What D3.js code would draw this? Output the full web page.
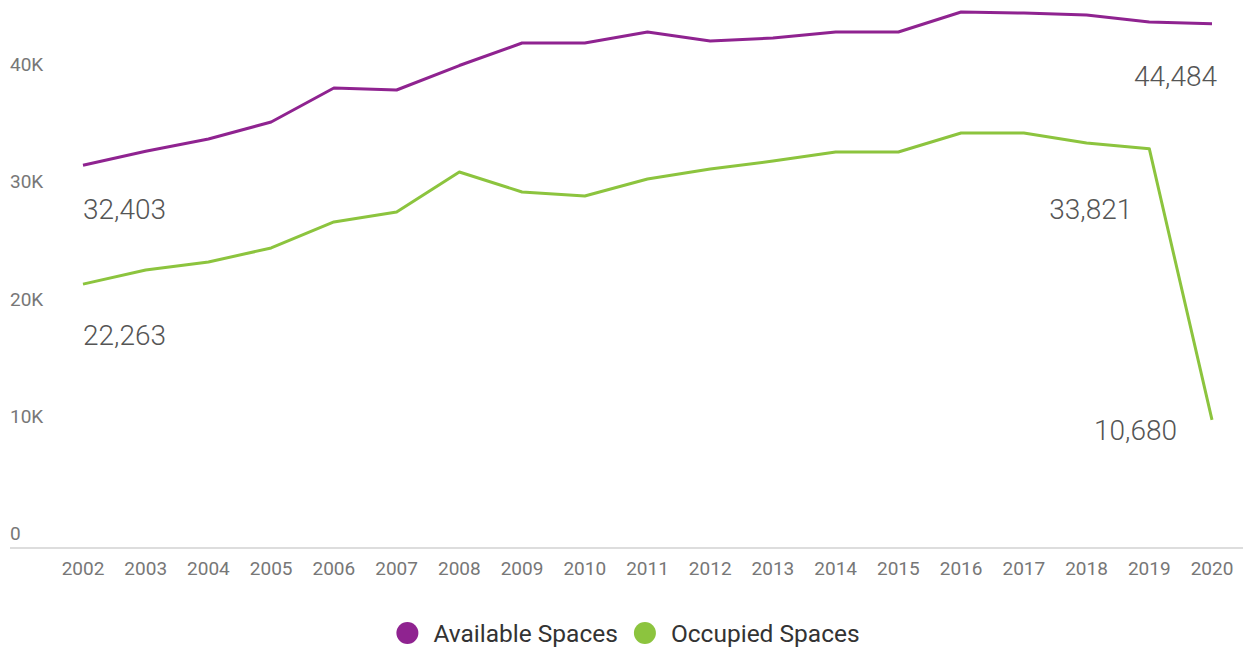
<!DOCTYPE html>
<html>
<head>
<meta charset="utf-8">
<script src="https://cdn.jsdelivr.net/npm/d3@7"></script>
<style>
  body { margin: 0; background: #fff; }
  svg { display: block; }
</style>
</head>
<body>
<svg id="chart" width="1248" height="648"></svg>
<script>
// years on the x axis
const years = [2002, 2003, 2004, 2005, 2006, 2007, 2008, 2009, 2010, 2011,
               2012, 2013, 2014, 2015, 2016, 2017, 2018, 2019, 2020];

// series values
const available = [32403, 33600, 34650, 36100, 39000, 38830, 40920, 42840, 42840, 43780,
                   43010, 43270, 43780, 43780, 45490, 45400, 45230, 44640, 44484];
const occupied  = [22263, 23470, 24150, 25350, 27570, 28420, 31830, 30130, 29790, 31240,
                   32090, 32770, 33540, 33540, 35160, 35160, 34310, 33821, 10680];

const seriesNames = ["Available Spaces", "Occupied Spaces"];
const yTicks = [0, 10000, 20000, 30000, 40000];

// value labels: which series / which year
const valueLabels = [
  { series: 0, year: 2002, anchor: "start", dx: 0,   dy: 54 },
  { series: 1, year: 2002, anchor: "start", dx: 0,   dy: 61 },
  { series: 0, year: 2020, anchor: "end",   dx: 5,   dy: 62 },
  { series: 1, year: 2019, anchor: "end",   dx: -17, dy: 70 },
  { series: 1, year: 2020, anchor: "end",   dx: -35, dy: 20 }
];

const colors = ["#8f2390", "#8cc43e"];
const svg = d3.select("#chart");

const x = d3.scalePoint().domain(years).range([83, 1212]);
const y = d3.scaleLinear().domain([0, 46000]).range([545, 6]);

const allSeries = [available, occupied];

// baseline
svg.append("line")
  .attr("x1", 10).attr("x2", 1243)
  .attr("y1", 548).attr("y2", 548)
  .attr("stroke", "#dddddd")
  .attr("stroke-width", 2);

// y labels (no gridlines, text sits just above the tick)
svg.append("g").selectAll("text")
  .data(yTicks)
  .join("text")
  .attr("x", 10)
  .attr("y", d => y(d) - 5)
  .attr("font-family", "Roboto, sans-serif")
  .attr("font-size", 19)
  .attr("fill", "#777")
  .text(d => d === 0 ? "0" : d3.format("~s")(d).replace("k", "K"));

// x labels
svg.append("g").selectAll("text")
  .data(years)
  .join("text")
  .attr("x", d => x(d))
  .attr("y", 575)
  .attr("text-anchor", "middle")
  .attr("font-family", "Roboto, sans-serif")
  .attr("font-size", 19)
  .attr("fill", "#777")
  .text(d => d);

// lines
let line = d3.line()
  .x((d, i) => x(years[i]))
  .y(d => y(d));

svg.append("g").selectAll("path")
  .data(allSeries)
  .join("path")
  .attr("d", d => line(d))
  .attr("fill", "none")
  .attr("stroke", (d, i) => colors[i])
  .attr("stroke-width", 3)
  .attr("stroke-linejoin", "round");

// value labels
svg.append("g").selectAll("text")
  .data(valueLabels)
  .join("text")
  .attr("x", d => x(d.year) + d.dx)
  .attr("y", d => y(allSeries[d.series][years.indexOf(d.year)]) + d.dy)
  .attr("text-anchor", d => d.anchor)
  .attr("font-family", "Roboto, sans-serif")
  .attr("font-weight", 300)
  .attr("font-size", 28)
  .attr("fill", "#555")
  .text(d => d3.format(",")(allSeries[d.series][years.indexOf(d.year)]));

// legend, centred under the plot
const legend = svg.append("g");
let cursor = 0;
seriesNames.forEach(function (name, i) {
  let item = legend.append("g").attr("transform", `translate(${cursor},0)`);
  item.append("circle")
    .attr("cx", 11).attr("cy", 0).attr("r", 11)
    .attr("fill", colors[i]);
  let t = item.append("text")
    .attr("x", 37).attr("y", 9)
    .attr("font-family", "Roboto, sans-serif")
    .attr("font-size", 24.5)
    .attr("fill", "#333")
    .text(name);
  cursor += 37 + t.node().getComputedTextLength() + 16;
});
const legendWidth = cursor - 16;
legend.attr("transform", `translate(${628 - legendWidth / 2},633)`);
</script>
</body>
</html>
